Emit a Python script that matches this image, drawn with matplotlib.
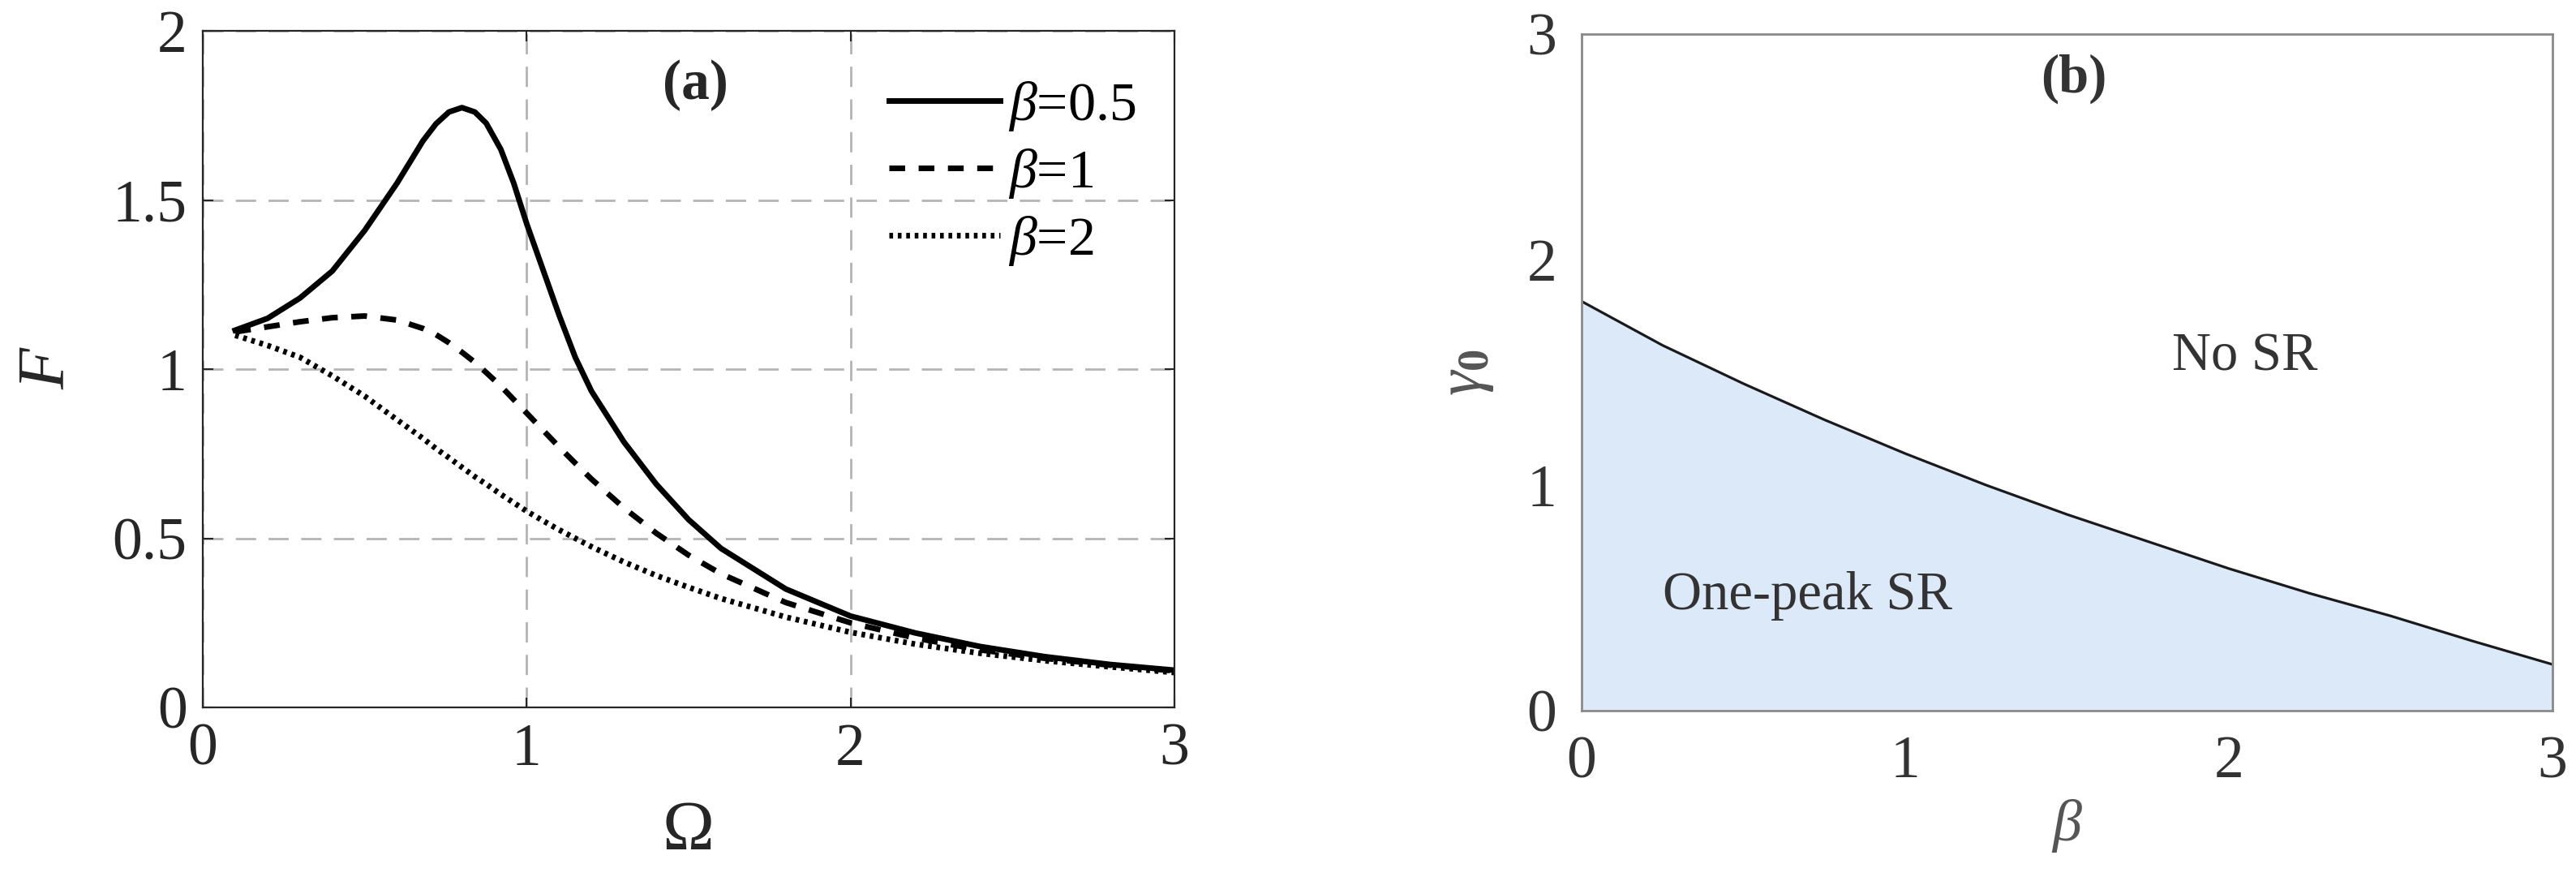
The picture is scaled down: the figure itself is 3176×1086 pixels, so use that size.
import numpy as np
import matplotlib
matplotlib.use("Agg")
import matplotlib.pyplot as plt
from matplotlib.ticker import FixedLocator, FuncFormatter

plt.rcParams['font.family'] = ['Liberation Serif', 'DejaVu Serif']
plt.rcParams['mathtext.fontset'] = 'custom'
plt.rcParams['mathtext.rm'] = 'Liberation Serif'
plt.rcParams['mathtext.it'] = 'Liberation Serif:italic'
plt.rcParams['mathtext.bf'] = 'Liberation Serif:bold'
plt.rcParams['lines.scale_dashes'] = False

# panel (a): F vs Omega
omega = [0.1, 0.2, 0.3, 0.4, 0.5, 0.6, 0.68, 0.72, 0.76, 0.8, 0.84, 0.875, 0.92, 0.96,
         1.0, 1.05, 1.1, 1.15, 1.2, 1.3, 1.4, 1.5, 1.6, 1.8, 2.0, 2.2, 2.4, 2.6, 2.8, 3.0]
F_b05 = [1.115, 1.15, 1.21, 1.29, 1.41, 1.55, 1.675, 1.725, 1.76, 1.773, 1.76, 1.727, 1.65, 1.55,
         1.43, 1.295, 1.16, 1.035, 0.935, 0.785, 0.66, 0.555, 0.47, 0.35, 0.27, 0.22, 0.18, 0.15, 0.127, 0.11]
F_b1 = [1.11, 1.125, 1.14, 1.152, 1.157, 1.145, 1.12, 1.102, 1.078, 1.05, 1.02, 0.99, 0.95, 0.91,
        0.87, 0.82, 0.77, 0.722, 0.675, 0.59, 0.515, 0.45, 0.395, 0.31, 0.25, 0.205, 0.17, 0.145, 0.125, 0.108]
F_b2 = [1.10, 1.07, 1.035, 0.98, 0.92, 0.85, 0.795, 0.765, 0.738, 0.71, 0.682, 0.66, 0.63, 0.605,
        0.58, 0.552, 0.525, 0.5, 0.475, 0.43, 0.39, 0.355, 0.322, 0.267, 0.222, 0.187, 0.16, 0.138, 0.12, 0.103]
labels_a = [r'$\beta$=0.5', r'$\beta$=1', r'$\beta$=2']

# panel (b): boundary gamma0(beta)
beta = [0, 0.25, 0.5, 0.75, 1.0, 1.25, 1.5, 1.75, 2.0, 2.25, 2.5, 2.75, 3.0]
gamma0 = [1.815, 1.62, 1.45, 1.29, 1.14, 1.0, 0.87, 0.75, 0.63, 0.52, 0.42, 0.31, 0.205]

W, H = 3176, 1086
fig = plt.figure(figsize=(W / 100, H / 100), dpi=100)

ink = '#262626'
ax1 = fig.add_axes([250 / W, (H - 872) / H, 1198 / W, 834 / H])
ax1.plot(omega, F_b05, color='black', lw=5, label=labels_a[0])
ax1.plot(omega, F_b1, color='black', lw=5, dashes=(14, 12), label=labels_a[1])
ax1.plot(omega, F_b2, color='black', lw=5, dashes=(3.3, 4.2), label=labels_a[2])
ax1.set_xlim(0, 3)
ax1.set_ylim(0, 2)
ax1.xaxis.set_major_locator(FixedLocator([0, 1, 2, 3]))
ax1.yaxis.set_major_locator(FixedLocator([0, 0.5, 1, 1.5, 2]))
ax1.yaxis.set_major_formatter(FuncFormatter(lambda v, p: '%g' % v))
ax1.grid(True, color='#b4b4b4', lw=2, dashes=(18, 11))
ax1.tick_params(direction='in', length=9, width=1.5, top=True, right=True,
                labelsize=53, colors=ink, pad=14)
for s in ax1.spines.values():
    s.set_color(ink)
    s.set_linewidth(1.6)
ax1.set_xlabel('Ω', fontsize=62, color=ink, labelpad=20)
ax1.set_ylabel('F', fontsize=60, fontstyle='italic', color=ink, labelpad=30)
ax1.text(1.52, 1.84, '(a)', fontsize=50, fontweight='bold', ha='center', va='center', color=ink)
ax1.legend(loc='upper right', frameon=False, fontsize=49, handlelength=2.0,
           handletextpad=0.15, labelspacing=0.25, borderaxespad=0.3,
           bbox_to_anchor=(1.0, 0.985))

# panel (b)
grey = '#8a8a8a'
txt = '#333333'
ax2 = fig.add_axes([1950 / W, (H - 876) / H, 1197 / W, 834 / H])
ax2.fill_between(beta, 0, gamma0, color='#dce9f8', lw=0)
ax2.plot(beta, gamma0, color='#1a1a1a', lw=2.3)
ax2.set_xlim(0, 3)
ax2.set_ylim(0, 3)
ax2.xaxis.set_major_locator(FixedLocator([0, 1, 2, 3]))
ax2.yaxis.set_major_locator(FixedLocator([0, 1, 2, 3]))
ax2.tick_params(length=0, labelsize=53, colors=txt, pad=22)
for s in ax2.spines.values():
    s.set_color(grey)
    s.set_linewidth(2)
ax2.set_xlabel('β', fontsize=52, fontstyle='italic', color='#555555', labelpad=8)
ax2.set_ylabel(r'$\gamma_\mathbf{0}$', fontsize=56, color='#555555', labelpad=28)
ax2.text(1.52, 2.80, '(b)', fontsize=48, fontweight='bold', ha='center', va='center', color=txt)
ax2.text(2.05, 1.57, 'No SR', fontsize=48, ha='center', va='center', color=txt)
ax2.text(0.25, 0.51, 'One-peak SR', fontsize=48, ha='left', va='center', color=txt)

fig.savefig('out.png', dpi=100)
